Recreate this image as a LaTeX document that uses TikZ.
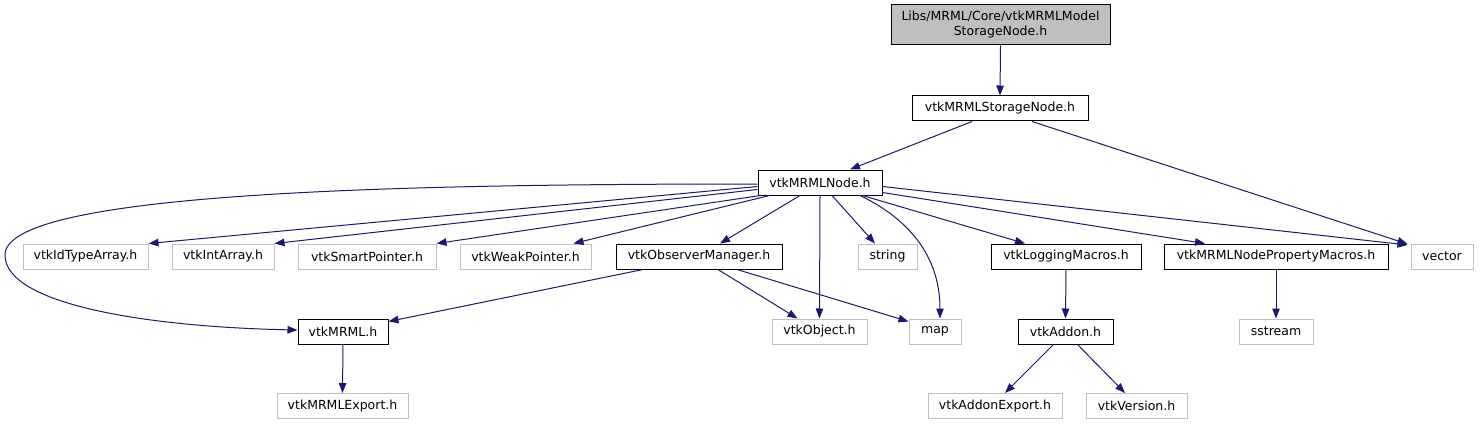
\documentclass[tikz,border=0pt]{standalone}
\usepackage{fontspec}
\setmainfont{DejaVu Sans}
\usetikzlibrary{arrows.meta,calc}
\definecolor{edgec}{HTML}{191970}
\definecolor{grayb}{HTML}{BFBFBF}
\begin{document}
\begin{tikzpicture}[x=1pt,y=-1pt,
  base/.style={line width=1pt, inner sep=0pt, minimum height=25pt, fill=white,
    font=\fontsize{12.5}{15}\selectfont, align=center},
  doc/.style={base, draw=black},
  ext/.style={base, draw=grayb},
  edge/.style={draw=edgec, line width=1pt, -{Triangle[length=10pt,width=7.5pt]}, fill=none}]
\useasboundingbox (0,0) rectangle (1480,425);

\node[doc, fill=grayb, minimum width=219pt, minimum height=40pt] (top) at (1000.5,25) {Libs/MRML/Core/vtkMRMLModel\\StorageNode.h};
\node[doc, minimum width=176pt] (storage) at (1000,108.5) {vtkMRMLStorageNode.h};
\node[doc, minimum width=124pt] (mrmlnode) at (820,182.5) {vtkMRMLNode.h};

\node[ext, minimum width=125pt] (idtype) at (85.5,256.5) {vtkIdTypeArray.h};
\node[ext, minimum width=102pt] (intarray) at (223,256.5) {vtkIntArray.h};
\node[ext, minimum width=138pt] (smartptr) at (367,256.5) {vtkSmartPointer.h};
\node[ext, minimum width=131pt] (weakptr) at (525.5,256.5) {vtkWeakPointer.h};
\node[doc, minimum width=166pt] (observer) at (699,256.5) {vtkObserverManager.h};
\node[ext, minimum width=59pt] (string) at (887.5,256.5) {string};
\node[doc, minimum width=150pt] (logging) at (1066,256.5) {vtkLoggingMacros.h};
\node[doc, minimum width=224pt] (propmacros) at (1276,256.5) {vtkMRMLNodePropertyMacros.h};
\node[ext, minimum width=62pt] (vector) at (1442,256.5) {vector};

\node[doc, minimum width=90pt] (vtkmrml) at (343,331.5) {vtkMRML.h};
\node[ext, minimum width=95pt] (vtkobject) at (819.5,331.5) {vtkObject.h};
\node[ext, minimum width=52pt] (map) at (935,331.5) {map};
\node[doc, minimum width=95pt] (addon) at (1065.5,331.5) {vtkAddon.h};
\node[ext, minimum width=74pt] (sstream) at (1276,331.5) {sstream};

\node[ext, minimum width=131pt] (mrmlexport) at (342.5,406) {vtkMRMLExport.h};
\node[ext, minimum width=134pt] (addonexport) at (995,406) {vtkAddonExport.h};
\node[ext, minimum width=101pt] (version) at (1136.5,406) {vtkVersion.h};

% edges
\draw[edge] (top.south) -- (storage.north);
\draw[edge] ([xshift=-28pt]storage.south) -- ([xshift=30pt]mrmlnode.north);
\draw[edge] ([xshift=32pt]storage.south) -- ([xshift=-3pt,yshift=-0.5pt]vector.north west);

\draw[edge] ([yshift=-1.5pt]mrmlnode.west) .. controls (400,184) and (5,192) .. (5,255) .. controls (5,305) and (150,327) .. ([yshift=1.5pt]vtkmrml.west);
\draw[edge] ([yshift=-4pt]mrmlnode.west) -- (idtype.north east);
\draw[edge] ([yshift=-7pt]mrmlnode.west) -- (intarray.north east);
\draw[edge] ([xshift=3pt]mrmlnode.south west) -- (smartptr.north east);
\draw[edge] ([xshift=12pt]mrmlnode.south west) -- ([xshift=-18pt]weakptr.north east);
\draw[edge] ([xshift=-20pt]mrmlnode.south) -- ([xshift=21pt]observer.north);
\draw[edge] (mrmlnode.south) -- (vtkobject.north);
\draw[edge] ([xshift=12pt]mrmlnode.south) -- ([xshift=-12.5pt]string.north);
\draw[edge] ([xshift=40pt]mrmlnode.south) .. controls (915,222) and (940,262) .. ([xshift=5pt]map.north);
\draw[edge] ([xshift=-20pt]mrmlnode.south east) -- ([xshift=-41pt]logging.north);
\draw[edge] ([yshift=3pt]mrmlnode.south east) -- ([xshift=-71pt]propmacros.north);
\draw[edge] ([yshift=-4pt]mrmlnode.east) -- ([xshift=-3pt,yshift=-1.5pt]vector.north west);

\draw[edge] ([xshift=-56pt]observer.south) -- ([yshift=-3pt]vtkmrml.north east);
\draw[edge] ([xshift=19pt]observer.south) -- ([xshift=-22pt]vtkobject.north);
\draw[edge] ([xshift=38pt]observer.south) -- ([yshift=-3pt]map.north west);

\draw[edge] (vtkmrml.south) -- (mrmlexport.north);
\draw[edge] (logging.south) -- (addon.north);
\draw[edge] ([xshift=-12pt]addon.south) -- ([xshift=10pt]addonexport.north);
\draw[edge] ([xshift=12pt]addon.south) -- ([xshift=-11.5pt]version.north);
\draw[edge] (propmacros.south) -- (sstream.north);
\end{tikzpicture}
\end{document}
